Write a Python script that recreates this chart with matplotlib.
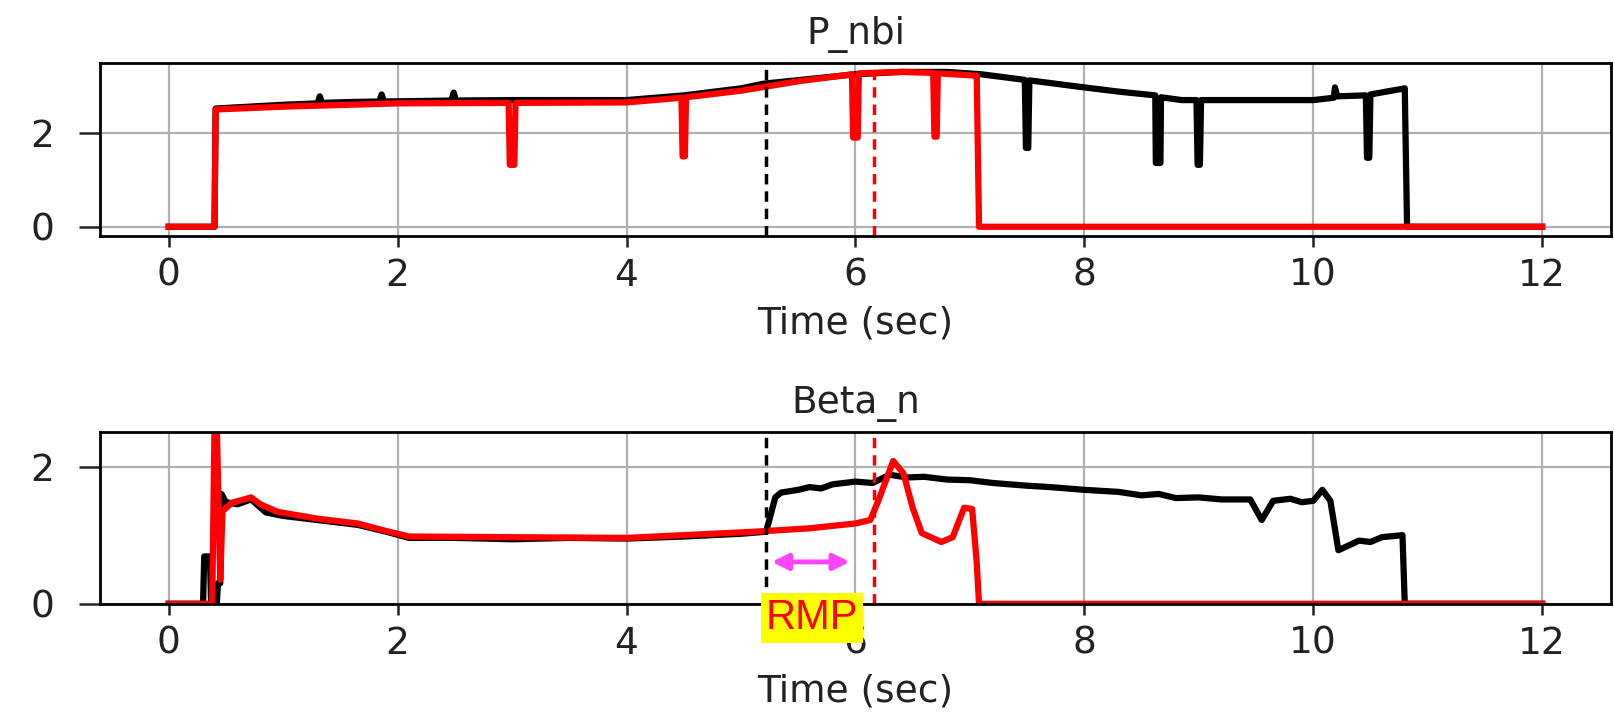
import matplotlib
matplotlib.use("Agg")
import matplotlib.pyplot as plt

# P_nbi - shot with full discharge (black) and shot with RMP (red)
t_pnbi_k = [0, 0.40, 0.41, 1.0, 1.30, 1.32, 1.34, 1.60, 1.84, 1.86, 1.88, 2.20, 2.47, 2.49, 2.51,
            3.0, 3.5, 4.0, 4.5, 5.0, 5.2, 5.6, 6.0, 6.4, 6.8, 7.1, 7.48, 7.49, 7.51, 7.52,
            8.0, 8.3, 8.62, 8.625, 8.665, 8.67, 8.85, 8.98, 8.99, 9.01, 9.02, 9.5, 10.0,
            10.18, 10.19, 10.21, 10.46, 10.47, 10.49, 10.50, 10.80, 10.82, 12.0]
pnbi_k = [0, 0, 2.52, 2.60, 2.63, 2.78, 2.64, 2.66, 2.67, 2.82, 2.67, 2.68, 2.69, 2.86, 2.69,
          2.70, 2.70, 2.70, 2.80, 2.95, 3.05, 3.15, 3.25, 3.30, 3.30, 3.25, 3.13, 1.68, 1.68, 3.12,
          2.97, 2.88, 2.80, 1.36, 1.36, 2.76, 2.70, 2.70, 1.32, 1.32, 2.70, 2.70, 2.70,
          2.75, 2.97, 2.78, 2.80, 1.47, 1.47, 2.82, 2.95, 0, 0]

t_pnbi_r = [0, 0.40, 0.41, 1.0, 2.0, 2.97, 2.98, 3.02, 3.03, 4.0, 4.48, 4.49, 4.51, 4.52,
            5.0, 5.5, 5.97, 5.98, 6.02, 6.03, 6.4, 6.68, 6.69, 6.71, 6.72, 7.06, 7.08, 12.0]
pnbi_r = [0, 0, 2.50, 2.56, 2.63, 2.64, 1.32, 1.32, 2.64, 2.65, 2.75, 1.50, 1.50, 2.76,
          2.90, 3.10, 3.25, 1.90, 1.90, 3.27, 3.30, 3.28, 1.92, 1.92, 3.27, 3.22, 0, 0]

# Beta_n
t_beta_k = [0, 0.30, 0.31, 0.36, 0.37, 0.42, 0.43, 0.45, 0.46, 0.50, 0.60, 0.72, 0.85, 1.0,
            1.3, 1.65, 1.9, 2.1, 2.5, 3.0, 3.5, 4.0, 4.5, 5.0, 5.22, 5.30, 5.35, 5.5, 5.6, 5.7,
            5.8, 6.0, 6.15, 6.3, 6.45, 6.6, 6.8, 7.0, 7.2, 7.5, 7.7, 8.0, 8.3, 8.5, 8.65, 8.8,
            9.0, 9.2, 9.45, 9.55, 9.65, 9.8, 9.9, 10.0, 10.08, 10.15, 10.22, 10.4, 10.5, 10.6,
            10.78, 10.80, 12.0]
beta_k = [0, 0, 0.69, 0.69, 0, 0, 0.30, 0.30, 1.60, 1.48, 1.45, 1.52, 1.33, 1.28,
          1.22, 1.15, 1.05, 0.96, 0.96, 0.94, 0.96, 0.95, 0.98, 1.02, 1.05, 1.55, 1.62, 1.66,
          1.70, 1.68, 1.74, 1.78, 1.76, 1.88, 1.84, 1.85, 1.81, 1.80, 1.76, 1.72, 1.70, 1.66,
          1.63, 1.58, 1.60, 1.54, 1.55, 1.52, 1.52, 1.22, 1.50, 1.53, 1.48, 1.50, 1.66, 1.50,
          0.78, 0.92, 0.90, 0.97, 1.00, 0, 0]

t_beta_r = [0, 0.38, 0.40, 0.42, 0.45, 0.47, 0.55, 0.72, 0.80, 0.95, 1.3, 1.65, 1.9, 2.1,
            3.0, 4.0, 4.5, 5.0, 5.22, 5.6, 6.0, 6.13, 6.20, 6.33, 6.42, 6.50, 6.58, 6.75,
            6.85, 6.95, 7.02, 7.06, 7.08, 12.0]
beta_r = [0, 0, 2.6, 2.6, 0.35, 1.35, 1.47, 1.55, 1.45, 1.34, 1.24, 1.17, 1.06, 0.98,
          0.97, 0.96, 1.00, 1.04, 1.06, 1.10, 1.17, 1.22, 1.50, 2.08, 1.90, 1.40, 1.03, 0.90,
          0.97, 1.40, 1.38, 0.60, 0, 0]

t_shot_k = 5.22   # black dashed marker
t_shot_r = 6.16   # red dashed marker

fig = plt.figure(figsize=(16.14, 7.12), dpi=100)
ax1 = fig.add_axes([0.062, 0.669, 0.936, 0.2425])
ax2 = fig.add_axes([0.062, 0.152, 0.936, 0.241])

fs = 27
for ax in (ax1, ax2):
    ax.grid(True, color='#b0b0b0', lw=1.6)
    ax.set_axisbelow(True)
    for s in ax.spines.values():
        s.set_linewidth(2)
    ax.tick_params(axis='x', labelsize=fs, length=8, width=1.8, pad=8, colors='#222222')
    ax.tick_params(axis='y', labelsize=fs, length=15, width=1.8, pad=18, colors='#222222')
    ax.set_xlabel('Time (sec)', fontsize=fs, labelpad=8, color='#222222')

# Grafico superior: P_nbi
ax1.plot(t_pnbi_k, pnbi_k, color='black', lw=4.5)
ax1.plot(t_pnbi_r, pnbi_r, color='red', lw=4.5)
ax1.axvline(t_shot_k, color='black', ls='--', lw=2.5, dashes=(3, 2))
ax1.axvline(t_shot_r, color='red', ls='--', lw=2.5, dashes=(3, 2))
ax1.set_xlim(-0.6, 12.6)
ax1.set_ylim(-0.19, 3.49)
ax1.set_yticks([0, 2])
ax1.set_xticks([0, 2, 4, 6, 8, 10, 12])
ax1.set_title('P_nbi', fontsize=fs, pad=14, color='#222222')

# Grafico inferior: Beta_n
ax2.plot(t_beta_k, beta_k, color='black', lw=4.5)
ax2.plot(t_beta_r, beta_r, color='red', lw=4.5)
ax2.axvline(t_shot_k, color='black', ls='--', lw=2.5, dashes=(3, 2))
ax2.axvline(t_shot_r, color='red', ls='--', lw=2.5, dashes=(3, 2))
ax2.set_xlim(-0.6, 12.6)
ax2.set_ylim(0, 2.5)
ax2.set_yticks([0, 2])
ax2.set_xticks([0, 2, 4, 6, 8, 10, 12])
ax2.set_title('Beta_n', fontsize=fs, pad=14, color='#222222')

# flecha y etiqueta RMP (la caja tapa parte del "6", como en el original)
ax2.annotate('', xy=(5.27, 0.61), xytext=(5.95, 0.61),
             arrowprops=dict(arrowstyle='<|-|>', color='#ff44ff', lw=3.5,
                             mutation_scale=24, shrinkA=0, shrinkB=0))
ax2.text(5.62, -0.21, 'RMP', fontsize=30, color='red', ha='center', va='center',
         family=['Liberation Sans Narrow', 'Liberation Sans', 'DejaVu Sans'],
         bbox=dict(facecolor='yellow', edgecolor='none', boxstyle='square,pad=0.12'),
         clip_on=False, zorder=5)

fig.savefig('out.png', dpi=100)
